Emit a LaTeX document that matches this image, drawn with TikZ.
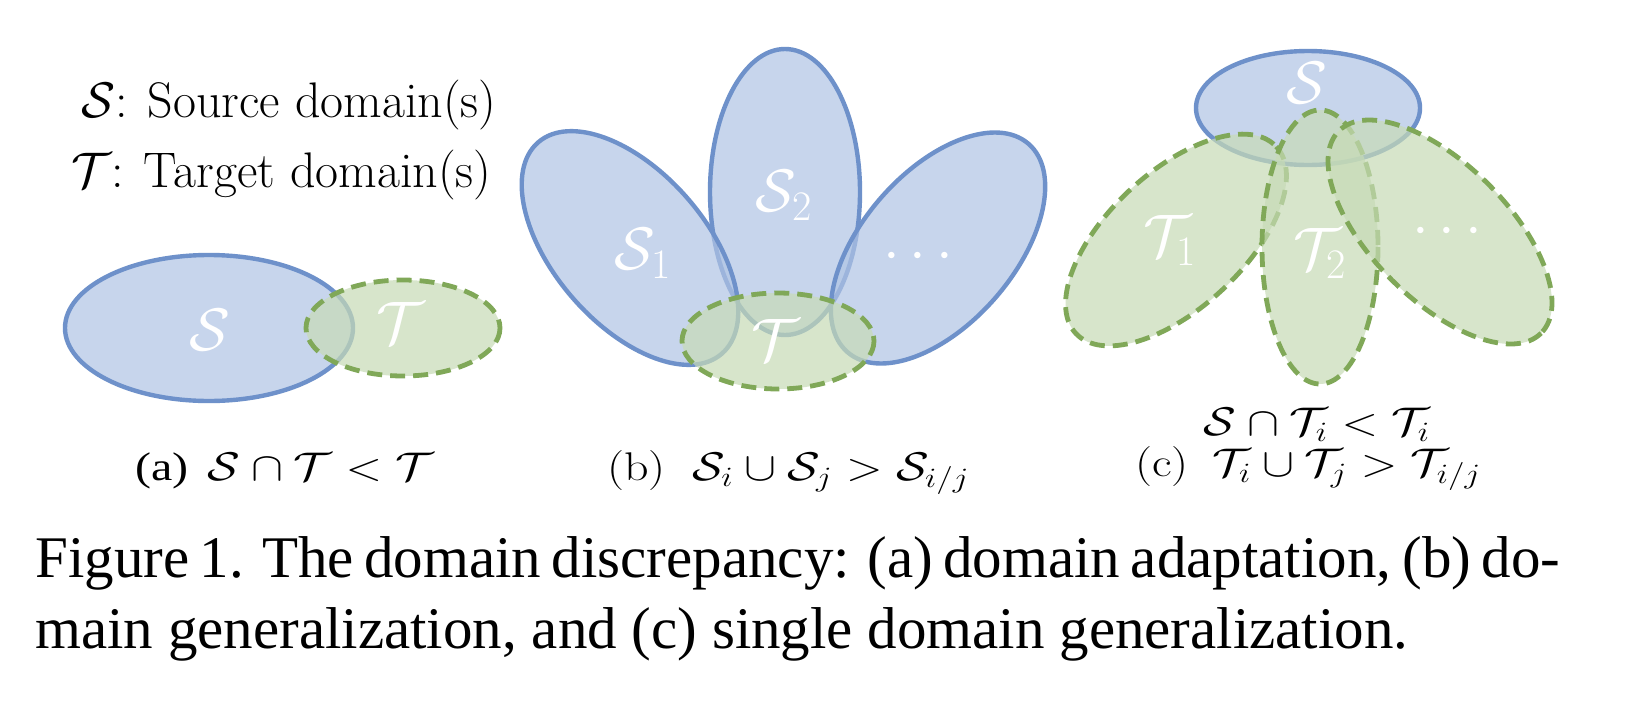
\RequirePackage{fix-cm}
\documentclass[tikz,border=0pt]{standalone}
\usepackage{graphicx}
\usepackage{fontspec}
\newfontfamily\timesf{Liberation Serif}
\definecolor{bfill}{RGB}{176,196,228}
\definecolor{gfill}{RGB}{199,219,182}
\definecolor{bline}{RGB}{110,145,202}
\definecolor{gline}{RGB}{128,168,88}
\newcommand{\widetxt}[1]{\scalebox{1.2}[1]{#1}}
\tikzset{
  src/.style={fill=bfill, fill opacity=0.7, draw=bline, draw opacity=1, line width=2.2pt},
  tgt/.style={fill=gfill, fill opacity=0.7, draw=gline, draw opacity=1, line width=2.4pt, dash pattern=on 7.5pt off 4pt},
  lbl/.style={text=white, inner sep=0pt, font=\fontsize{30}{34}\selectfont},
  legend/.style={anchor=base east, inner sep=0pt, font=\fontsize{25}{30}\selectfont},
  sub/.style={inner sep=0pt, font=\fontsize{20}{24}\selectfont},
  captext/.style={anchor=base west, inner sep=0pt, font=\timesf\fontsize{29.5}{35}\selectfont}
}
\begin{document}
\begin{tikzpicture}[x=0.5pt,y=-0.5pt]
\useasboundingbox (0,0) rectangle (1632,702);
\fill[white] (0,0) rectangle (1632,702);

% legend
\node[legend] (leg1) at (497,117) {$\mathcal{S}$: Source domain(s)};
\node[legend] (leg2) at (492,187) {$\mathcal{T}$: Target domain(s)};

% (a)
\path[src] (209,328) ellipse [x radius=144, y radius=73];
\path[tgt] (403,328) ellipse [x radius=97, y radius=48];
\node[lbl] (aS) at (210,330) {$\mathcal{S}$};
\node[lbl] (aT) at (400,323) {$\mathcal{T}$};

% (b)
\path[src] (785,192) ellipse [x radius=75, y radius=143];
\path[src, shift={(630,248)}, rotate=-49] (0,0) ellipse [x radius=140, y radius=76];
\path[src, shift={(938,248)}, rotate=49] (0,0) ellipse [x radius=138, y radius=76];
\path[tgt] (778,341) ellipse [x radius=96, y radius=48];
\node[lbl] (bS1) at (643,253) {$\mathcal{S}_1$};
\node[lbl] (bS2) at (784,195) {$\mathcal{S}_2$};
\node[lbl] (bS3) at (918,257) {$\cdots$};
\node[lbl] (bT) at (775,340) {$\mathcal{T}$};

% (c)
\path[src] (1308,108) ellipse [x radius=112, y radius=57];
\path[tgt, shift={(1176,240)}, rotate=43] (0,0) ellipse [x radius=137, y radius=68];
\path[tgt] (1320,247) ellipse [x radius=58, y radius=137];
\path[tgt, shift={(1440,232)}, rotate=-45] (0,0) ellipse [x radius=143, y radius=68];
\node[lbl] (cS) at (1307,83) {$\mathcal{S}$};
\node[lbl] (cT1) at (1170,240) {$\mathcal{T}_1$};
\node[lbl] (cT2) at (1320,253) {$\mathcal{T}_2$};
\node[lbl] (cT3) at (1447,232) {$\cdots$};

% sub-captions
\node[sub, anchor=base west] (suba) at (135,480) {\widetxt{{\timesf (a)}\hspace{0.4em}$\mathcal{S}\cap\mathcal{T}<\mathcal{T}$}};
\node[sub, anchor=base west] (subb) at (607,480) {\widetxt{(b)\hspace{0.55em}$\mathcal{S}_i\cup\mathcal{S}_j>\mathcal{S}_{i/j}$}};
\node[sub, anchor=base] (subc1) at (1317,435) {\widetxt{$\mathcal{S}\cap\mathcal{T}_i<\mathcal{T}_i$}};
\node[sub, anchor=base west] (subc2) at (1135,476) {\widetxt{(c)\hspace{0.5em}$\mathcal{T}_i\cup\mathcal{T}_j>\mathcal{T}_{i/j}$}};

% caption
\node[captext] (cap1) at (35,577) {\hbox to 762.5pt{Figure 1. The domain discrepancy: (a) domain adaptation, (b) do-}};
\node[captext] (cap2) at (35,648) {main generalization, and (c) single domain generalization.};
\end{tikzpicture}
\end{document}
